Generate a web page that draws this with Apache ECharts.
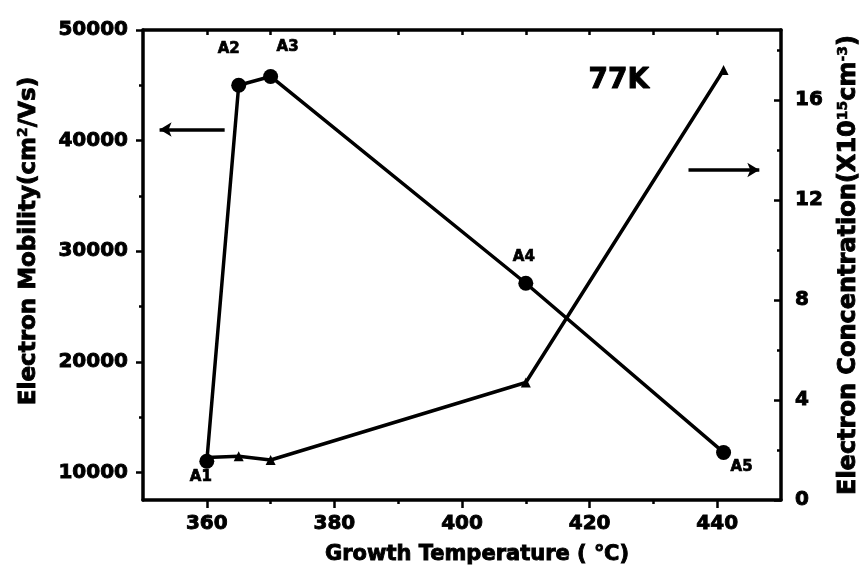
<!DOCTYPE html>
<html>
<head>
<meta charset="utf-8">
<script src="https://cdn.jsdelivr.net/npm/echarts@6/dist/echarts.min.js"></script>
<style>
  html, body { margin: 0; padding: 0; background: #fff; }
  #chart { width: 866px; height: 565px; }
</style>
</head>
<body>
<div id="chart"></div>
<script>
// Samples A1–A5: growth temperature vs. 77K Hall data
const sampleNames = ['A1', 'A2', 'A3', 'A4', 'A5'];
const growthTemperature = [360, 365, 370, 410, 441];
const electronMobility = [11000, 45000, 45800, 27100, 11800];
const electronConcentration = [1.7, 1.75, 1.6, 4.7, 17.2];

// Axis tick values
const temperatureLabels = [360, 380, 400, 420, 440];
const temperatureMinor = [370, 390, 410, 430];
const temperatureTop = [360, 370, 380, 390, 400, 410, 420, 430, 440];
const mobilityLabels = [10000, 20000, 30000, 40000, 50000];
const mobilityMinor = [15000, 25000, 35000, 45000];
const concentrationLabels = [0, 4, 8, 12, 16];
const concentrationMinor = [2, 6, 10, 14, 18];

// Arrow annotations pointing to each series' axis
const mobilityArrow = [[362.8, 41000], [352.6, 41000]];
const concentrationArrow = [[435.5, 13.2], [446.6, 13.2]];

// Offsets of the sample name labels around each mobility point
const nameOffsets = [[-6, 16], [-10, -36], [17, -29], [-2, -26], [18, 15]];

const FONT = 'DejaVu Sans';
const BLACK = '#000';

const chart = echarts.init(document.getElementById('chart'), null, { renderer: 'canvas' });

// Heavy bold lettering: bold face plus a thin outline in the same colour
const heavy = { color: BLACK, fontFamily: FONT, fontWeight: 'bold', textBorderColor: BLACK, textBorderWidth: 0.9 };
const tickText = Object.assign({ fontSize: 20, formatter: v => String(v) }, heavy);
const supStyle = { fontFamily: FONT, fontWeight: 'bold', fontSize: 14, verticalAlign: 'top',
                   padding: [0, 0, 12, 0], textBorderColor: BLACK, textBorderWidth: 0.6 };

function hiddenAxisBase(extra) {
  return Object.assign({
    type: 'value',
    axisLine: { show: false },
    axisLabel: { show: false },
    splitLine: { show: false }
  }, extra);
}

const mobilityData = growthTemperature.map((t, i) => ({
  value: [t, electronMobility[i]],
  label: Object.assign({
    show: true,
    formatter: sampleNames[i],
    position: 'inside',
    offset: nameOffsets[i],
    fontSize: 15
  }, heavy, { textBorderWidth: 0.7 })
}));

const concentrationData = growthTemperature.map((t, i) => [t, electronConcentration[i]]);

const option = {
  animation: false,
  backgroundColor: '#fff',
  grid: { left: 143, right: 85, top: 30, bottom: 65, containLabel: false, outerBoundsMode: 'none' },
  xAxis: [
    {
      type: 'value', position: 'bottom', min: 350, max: 450,
      name: 'Growth Temperature ( ℃)', nameLocation: 'middle', nameGap: 44,
      nameTextStyle: Object.assign({ fontSize: 21, padding: [0, 0, 0, 30] }, heavy),
      axisLine: { show: true, lineStyle: { color: BLACK, width: 3.5 } },
      axisTick: { show: true, inside: false, length: 8, lineStyle: { color: BLACK, width: 2.5 },
                  customValues: temperatureLabels },
      axisLabel: Object.assign({ customValues: temperatureLabels, margin: 14 }, tickText),
      splitLine: { show: false }
    },
    hiddenAxisBase({
      position: 'bottom', min: 350, max: 450,
      axisTick: { show: true, inside: false, length: 4, lineStyle: { color: BLACK, width: 2.5 },
                  customValues: temperatureMinor }
    }),
    {
      type: 'value', position: 'top', min: 350, max: 450,
      axisLine: { show: true, lineStyle: { color: BLACK, width: 3.5 } },
      axisTick: { show: true, inside: true, length: 5, lineStyle: { color: BLACK, width: 2.5 },
                  customValues: temperatureTop },
      axisLabel: { show: false },
      splitLine: { show: false }
    }
  ],
  yAxis: [
    {
      type: 'value', position: 'left', min: 7500, max: 50000,
      name: 'Electron Mobility(cm{sup|2}/Vs)', nameLocation: 'middle', nameRotate: 90, nameGap: 101,
      nameTextStyle: Object.assign({ fontSize: 23, padding: [0, 0, 0, 48], rich: { sup: supStyle } }, heavy),
      axisLine: { show: true, lineStyle: { color: BLACK, width: 3.5 } },
      axisTick: { show: true, inside: false, length: 7, lineStyle: { color: BLACK, width: 2.5 },
                  customValues: mobilityLabels },
      axisLabel: Object.assign({ customValues: mobilityLabels, margin: 15 }, tickText),
      splitLine: { show: false }
    },
    {
      type: 'value', position: 'right', min: 0, max: 18.8,
      name: 'Electron Concentration(X10{sup|15}cm{sup|-3})', nameLocation: 'middle', nameRotate: 90, nameGap: 55,
      nameTextStyle: Object.assign({ fontSize: 24, rich: { sup: supStyle } }, heavy),
      axisLine: { show: true, lineStyle: { color: BLACK, width: 3.5 } },
      axisTick: { show: true, inside: true, length: 7, lineStyle: { color: BLACK, width: 2.5 },
                  customValues: concentrationLabels },
      axisLabel: Object.assign({ customValues: concentrationLabels, margin: 14 }, tickText),
      splitLine: { show: false }
    },
    hiddenAxisBase({
      position: 'left', min: 7500, max: 50000,
      axisTick: { show: true, inside: false, length: 4, lineStyle: { color: BLACK, width: 2.5 },
                  customValues: mobilityMinor }
    }),
    hiddenAxisBase({
      position: 'right', min: 0, max: 18.8,
      axisTick: { show: true, inside: true, length: 4, lineStyle: { color: BLACK, width: 2.5 },
                  customValues: concentrationMinor }
    })
  ],
  graphic: [
    {
      type: 'text', left: 588, top: 66,
      style: { text: '77K', fill: BLACK, font: 'bold 28px "DejaVu Sans"', stroke: BLACK, lineWidth: 1 }
    }
  ],
  series: [
    {
      name: 'Electron Concentration',
      type: 'line',
      xAxisIndex: 0, yAxisIndex: 1,
      data: concentrationData,
      symbol: 'triangle', symbolSize: 10,
      itemStyle: { color: BLACK },
      lineStyle: { color: BLACK, width: 3.5 },
      z: 3,
      markLine: {
        silent: true,
        symbol: ['none', 'arrow'], symbolSize: [11, 12],
        label: { show: false },
        lineStyle: { color: BLACK, width: 3.5, type: 'solid' },
        data: [[{ coord: concentrationArrow[0] }, { coord: concentrationArrow[1] }]]
      }
    },
    {
      name: 'Electron Mobility',
      type: 'line',
      xAxisIndex: 0, yAxisIndex: 0,
      data: mobilityData,
      symbol: 'circle', symbolSize: 15,
      itemStyle: { color: BLACK },
      lineStyle: { color: BLACK, width: 3.5 },
      z: 4,
      markLine: {
        silent: true,
        symbol: ['none', 'arrow'], symbolSize: [11, 12],
        label: { show: false },
        lineStyle: { color: BLACK, width: 3.5, type: 'solid' },
        data: [[{ coord: mobilityArrow[0] }, { coord: mobilityArrow[1] }]]
      }
    }
  ]
};

chart.setOption(option);
</script>
</body>
</html>
